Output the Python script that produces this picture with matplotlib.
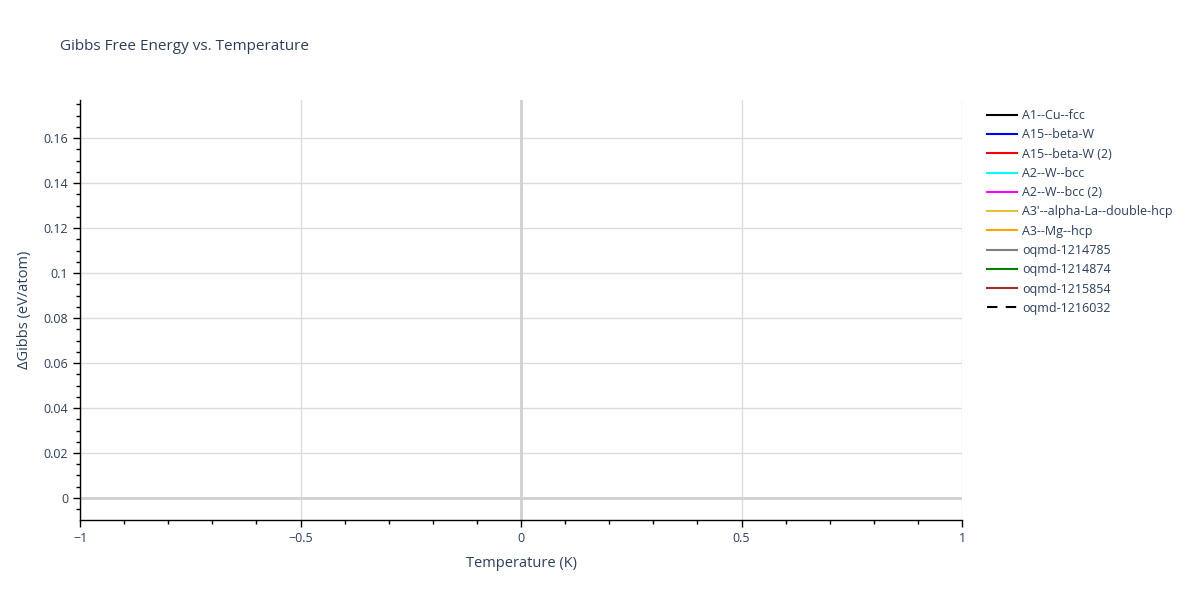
import matplotlib
matplotlib.use("Agg")
import matplotlib.pyplot as plt
from matplotlib.ticker import MultipleLocator, FuncFormatter

# 凡例の系列名・色・線種（データ点はなし）
names = ["A1--Cu--fcc", "A15--beta-W", "A15--beta-W (2)", "A2--W--bcc",
         "A2--W--bcc (2)", "A3'--alpha-La--double-hcp", "A3--Mg--hcp",
         "oqmd-1214785", "oqmd-1214874", "oqmd-1215854", "oqmd-1216032"]
colors = ["black", "blue", "red", "cyan", "magenta", "#e6bf3c", "orange",
          "gray", "green", "brown", "black"]
styles = ["-"] * 10 + [(0, (5, 4))]
temps = [[] for _ in names]
gibbs = [[] for _ in names]

xlim = (-1, 1)
ylim = (-0.0098, 0.177)

plt.rcParams["font.family"] = ["Open Sans", "DejaVu Sans"]
text_color = "#2a3f5f"

fig = plt.figure(figsize=(12, 6), dpi=100)
ax = fig.add_axes([80 / 1200, 1 - 520 / 600, 882 / 1200, 420 / 600])

for t, g, n, c, s in zip(temps, gibbs, names, colors, styles):
    ax.plot(t, g, color=c, linestyle=s, linewidth=1.5, label=n)

ax.set_xlim(*xlim)
ax.set_ylim(*ylim)

# グリッドとゼロライン
ax.xaxis.set_major_locator(MultipleLocator(0.5))
ax.xaxis.set_minor_locator(MultipleLocator(0.1))
ax.yaxis.set_major_locator(MultipleLocator(0.02))
ax.yaxis.set_minor_locator(MultipleLocator(0.005))
ax.grid(True, which="major", color="#dcdcdc", linewidth=1)
ax.axhline(0, color="#d0d0d0", linewidth=2, zorder=1)
ax.axvline(0, color="#d0d0d0", linewidth=2, zorder=1)
ax.set_axisbelow(True)

def fmt(v, pos):
    s = f"{v:g}"
    if s == "-0":
        s = "0"
    return s.replace("-", "\u2212")

ax.xaxis.set_major_formatter(FuncFormatter(fmt))
ax.yaxis.set_major_formatter(FuncFormatter(fmt))

for side in ["top", "right"]:
    ax.spines[side].set_visible(False)
for side in ["left", "bottom"]:
    ax.spines[side].set_color("black")
    ax.spines[side].set_linewidth(1)

ax.tick_params(which="major", length=5, width=1, color="black",
               labelsize=9, labelcolor=text_color, direction="out")
ax.tick_params(which="minor", length=3, width=1, color="black", direction="out")

ax.set_xlabel("Temperature (K)", fontsize=10.5, color=text_color, labelpad=8)
ax.set_ylabel("\u0394Gibbs (eV/atom)", fontsize=10.5, color=text_color, labelpad=8)

fig.text(60 / 1200, 1 - 46 / 600, "Gibbs Free Energy vs. Temperature",
         fontsize=11, color=text_color, va="center", ha="left")

leg = fig.legend(loc="upper left", bbox_to_anchor=(976 / 1200, 1 - 98 / 600),
                 frameon=False, fontsize=9, handlelength=2.4,
                 labelspacing=0.5, handletextpad=0.4)
for t in leg.get_texts():
    t.set_color(text_color)

fig.savefig("out.png", dpi=100, facecolor="white")
